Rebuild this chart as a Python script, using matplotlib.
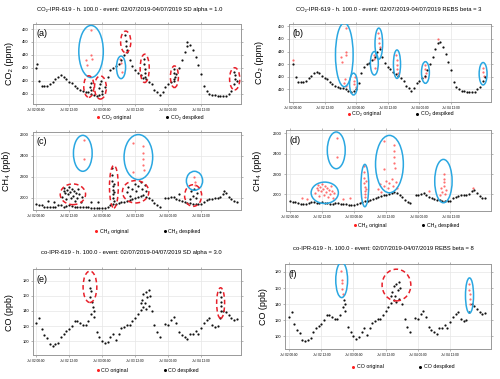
import matplotlib
matplotlib.use('Agg')
import matplotlib.pyplot as plt
from matplotlib.patches import Ellipse
from matplotlib.lines import Line2D
import numpy as np

plt.rcParams['font.family'] = ['Liberation Sans', 'DejaVu Sans']

# hours since Jul 02 00:00
hours = np.arange(74)

co2 = [430, 420, 416, 416, 416, 417, 419, 421, 423, 424,
       423, 421, 419, 418, 416, 414, 413, 412, 411, 411,
       410, 409, 408, 409, 410, 415, 423, 428, 430, 431,
       433, 436, 440, 442, 436, 431, 428, 426, 424, 422,
       421, 419, 417, 413, 411, 409, 411, 415, 417, 419,
       421, 425, 430, 436, 442, 447, 448, 444, 438, 432,
       425, 416, 412, 410, 409, 409, 408, 408, 408, 408,
       410, 412, 417, 420]

ch4 = [1935, 1930, 1925, 1915, 1910, 1908, 1910, 1915, 1930, 1925,
       1915, 1920, 1925, 1918, 1912, 1910, 1908, 1912, 1915, 1910,
       1905, 1903, 1900, 1898, 1900, 1905, 1915, 1925, 1935, 1940,
       1948, 1955, 1960, 1970, 1980, 1990, 1998, 2005, 2015, 2025,
       2010, 1995, 1975, 1950, 1930, 1915, np.nan, 1995, 1998, 2005,
       2010, 1990, 1975, 1965, 1955, 1950, 1945, 1940, 1938, 1935,
       1940, 1960, 1975, 1985, 1990, 1995, 1998, 2005, 2030, 2045,
       2010, 1985, 1965, 1960]

co = [124, 130, 116, 108, 104, 96, 94, 96, 98, 106,
      110, 113, 116, 120, 126, 126, 124, 122, 122, 126,
      136, 132, 112, 106, 100, 97, 99, 106, 110, 102,
      110, 117, 119, 121, 122, 126, 131, 136, 141, 145,
      143, 146, 140, 121, 112, 106, np.nan, 123, 121, 128,
      132, 124, 112, 108, 105, 103, 110, 110, 114, 110,
      118, 124, 128, 130, 122, 119, 120, 130, 140, 138,
      134, 130, 128, 129]

# spike points: time, value, flagged by SD, flagged by REBS
co2_spk_t = [20.1, 20.1, 20.2, 18.3, 18.5, 19.5, 19.8, 20.0, 23.0, 23.3, 23.6, 23.8,
             30.6, 30.9, 31.1, 32.4, 32.6, 32.8, 33.0, 39.3, 39.4, 39.5, 39.6, 39.7,
             50.1, 50.3, 50.4, 50.2, 72.0, 72.2, 72.4, 0.2, 55.0]
co2_spk_v = [459, 440, 437, 436, 432, 415, 418, 413, 414, 417, 420, 412,
             437, 434, 427, 455, 451, 447, 444, 437, 433, 429, 426, 423,
             429, 426, 423, 420, 427, 424, 421, 433, 450]
co2_spk_sd = [1, 1, 1, 1, 1, 0, 0, 0, 0, 0, 0, 0,
              1, 1, 1, 0, 0, 0, 0, 0, 0, 0, 0, 0,
              0, 0, 0, 0, 0, 0, 0, 0, 0]
co2_spk_rebs = [1] * len(co2_spk_t)

ch4_spk_t = [17.4, 17.5,
             9.5, 10.0, 10.3, 10.6, 11.0, 11.3, 11.6, 12.0, 12.3, 12.6,
             13.0, 13.4, 13.8, 14.2, 14.6, 15.0, 15.4, 15.8, 16.2, 16.6,
             27.5, 27.6, 27.7, 27.8, 27.9, 28.0, 28.1, 28.2, 28.3, 28.4,
             35.2, 35.3, 38.8, 38.8, 38.9, 39.0, 39.2,
             33.0, 33.5, 34.0, 35.0, 36.0, 36.5, 37.0, 38.0, 38.5, 39.5, 40.0,
             57.5, 57.6, 57.7,
             56.0, 56.5, 57.0, 57.5, 58.0, 58.5,
             4.5, 6.5, 20.0, 22.5, 52.0, 68.5]
ch4_spk_v = [2555, 2365,
             2010, 2060, 2095, 2040, 1985, 2075, 2030, 2105, 2050, 1995,
             2080, 2020, 2060, 1970, 2040, 2000, 2085, 2030, 1960, 2010,
             2280, 2220, 2160, 2110, 2070, 2030, 2000, 1970, 2130, 2050,
             2520, 2245, 2490, 2430, 2365, 2310, 2260,
             2050, 2100, 2020, 2080, 2130, 2060, 2110, 2150, 2080, 2120, 2060,
             2200, 2150, 2120,
             1990, 2060, 2020, 2080, 2000, 2040,
             1965, 1955, 1955, 1960, 2030, 2065]
ch4_spk_sd = [1, 1] + [0] * 20 + [0] * 10 + [1] * 7 + [0] * 11 + [1] * 3 + [0] * 6 + [0] * 6
ch4_spk_rebs = [1] * len(ch4_spk_t)

co_spk_t = [19.3, 19.6, 19.9, 19.7, 20.2, 67.0, 67.1, 67.2, 67.3, 67.4,
            38.0, 38.5, 39.0, 39.5, 40.0, 40.5, 41.0, 41.5, 20.6, 21.0]
co_spk_v = [181, 170, 166, 159, 152, 165, 158, 152, 146, 140,
            150, 155, 162, 150, 165, 158, 168, 160, 145, 140]
co_spk_sd = [0] * 20
co_spk_rebs = [1] * 10 + [0] * 10

xtick_hours = [0, 12, 24, 36, 48, 60]
xtick_labels = ['Jul 02 00:00', 'Jul 02 12:00', 'Jul 03 00:00',
                'Jul 03 12:00', 'Jul 04 00:00', 'Jul 04 12:00']

BLUE = '#2aa7e1'
RED = '#e8202a'

# ellipse annotations (centre x, centre y, width, height, style)
ells = {
    'a': [(20.0, 442.6, 8.9, 40.4, 'b'), (19.2, 415.4, 3.7, 16.7, 'r'),
          (23.4, 414.7, 4.3, 18, 'r'), (30.9, 430.3, 3.3, 17.5, 'b'),
          (32.6, 450, 3.7, 16.8, 'r'), (39.5, 429.5, 3.3, 22, 'r'),
          (50.3, 423, 2.9, 16.8, 'r'), (72.2, 421.4, 3.7, 17.2, 'r')],
    'b': [(19.5, 437.4, 6.7, 50.6, 'b'), (23.0, 414.2, 3.0, 17.3, 'b'),
          (30.9, 430.7, 3.0, 18.6, 'b'), (32.6, 446.3, 2.9, 24.7, 'b'),
          (39.5, 430, 2.7, 22.6, 'b'), (50.3, 423.4, 3.0, 17.2, 'b'),
          (72.2, 422.4, 3.0, 17.8, 'b')],
    'c': [(17.0, 2424, 6.8, 344, 'b'), (13.4, 2032, 9.2, 198, 'r'),
          (28.3, 2105, 3.2, 408, 'r'), (37.2, 2388, 10.4, 431, 'b'),
          (36.2, 2056, 9.6, 214, 'r'), (57.6, 2161, 5.9, 182, 'b'),
          (57.1, 2020, 6.2, 207, 'r')],
    'd': [(17.3, 2433, 6.7, 361, 'b'), (13.0, 2016, 10.2, 210, 'b'),
          (28.0, 2087, 2.9, 416, 'b'), (37.2, 2298, 10.4, 564, 'b'),
          (57.4, 2131, 6.5, 426, 'b')],
    'e': [(19.6, 172, 5.0, 41.6, 'r'), (67.1, 150.4, 2.9, 40.7, 'r')],
    'f': [(19.6, 170, 4.4, 43.7, 'b'), (40.0, 163.7, 10.7, 39.3, 'r'),
          (67.2, 150.7, 3.0, 43.7, 'b')],
}

fig = plt.figure(figsize=(5, 3.79), dpi=100)


def panel(rect, letter, series, st, sv, flag, gas, ylabel, ylim, yticks,
          xlim, leg_xy, ylab_x):
    ax = fig.add_axes(rect)
    st = np.array(st, float)
    sv = np.array(sv, float)
    flag = np.array(flag, bool)
    ax.plot(st[flag], sv[flag], 'o', color='#ff4040', ms=1.6, mec='none',
            alpha=0.75, zorder=2)
    bt = np.concatenate([hours, st[~flag]])
    bv = np.concatenate([np.array(series, float), sv[~flag]])
    ax.plot(bt, bv, 'o', color='#111111', ms=1.6, mec='none', zorder=3)
    for cx, cy, w, h, s in ells[letter]:
        if s == 'b':
            e = Ellipse((cx, cy), w, h, fill=False, ec=BLUE, lw=1.1, zorder=4)
        else:
            e = Ellipse((cx, cy), w, h, fill=False, ec=RED, lw=1.1,
                        ls=(0, (3, 2)), zorder=4)
        ax.add_patch(e)
    ax.set_xlim(xlim)
    ax.set_ylim(ylim)
    ax.set_xticks(xtick_hours)
    ax.set_xticklabels(xtick_labels, fontsize=2.3)
    ax.set_yticks(yticks)
    ax.set_yticklabels([str(v) for v in yticks], fontsize=2.9)
    ax.grid(color='#e6e6e6', lw=0.5)
    ax.set_axisbelow(True)
    for sp in ax.spines.values():
        sp.set_color('#999999')
        sp.set_linewidth(0.7)
    ax.tick_params(direction='out', length=1.5, width=0.5, color='#999999',
                   pad=1.5, top=True, right=True)
    ax.set_ylabel(ylabel, fontsize=6.5)
    ax.yaxis.set_label_coords(ylab_x, 0.5)
    ax.text(0.015, 0.93, '(' + letter + ')', transform=ax.transAxes,
            fontsize=6.5, va='top', ha='left')
    handles = [Line2D([], [], marker='o', ls='', color='#ff2020', ms=2.2, mec='none'),
               Line2D([], [], marker='o', ls='', color='black', ms=2.2, mec='none')]
    ax.legend(handles, [gas + ' original', gas + ' despiked'], loc='center',
              bbox_to_anchor=leg_xy, ncol=2, frameon=False, fontsize=3.8,
              columnspacing=6.5, handletextpad=0.3, handlelength=0.8)
    return ax


xl_left = (-1.1, 74.5)
xl_right = (-1.5, 75.2)

panel([0.066, 0.726, 0.416, 0.211], 'a', co2, co2_spk_t, co2_spk_v, co2_spk_sd,
      'CO₂', 'CO₂ (ppm)', (402, 464), [410, 420, 430, 440, 450, 460],
      xl_left, (0.56, -0.175), -0.091)
panel([0.578, 0.731, 0.404, 0.206], 'b', co2, co2_spk_t, co2_spk_v, co2_spk_rebs,
      'CO₂', 'CO₂ (ppm)', (400, 462), [410, 420, 430, 440, 450, 460],
      xl_right, (0.55, -0.154), -0.124)
panel([0.066, 0.446, 0.416, 0.206], 'c', ch4, ch4_spk_t, ch4_spk_v, ch4_spk_sd,
      'CH₄', 'CH₄ (ppb)', (1882, 2629), [2000, 2200, 2400, 2600],
      xl_left, (0.55, -0.27), -0.106)
panel([0.572, 0.443, 0.41, 0.214], 'd', ch4, ch4_spk_t, ch4_spk_v, ch4_spk_rebs,
      'CH₄', 'CH₄ (ppb)', (1836, 2633), [2000, 2200, 2400, 2600],
      xl_right, (0.585, -0.173), -0.117)
panel([0.066, 0.063, 0.416, 0.227], 'e', co, co_spk_t, co_spk_v, co_spk_sd,
      'CO', 'CO (ppb)', (81.4, 195.5), [100, 120, 140, 160, 180],
      xl_left, (0.55, -0.174), -0.091)
panel([0.57, 0.079, 0.412, 0.224], 'f', co, co_spk_t, co_spk_v, co_spk_rebs,
      'CO', 'CO (ppb)', (84.3, 189.6), [100, 120, 140, 160, 180],
      xl_right, (0.57, -0.21), -0.084)

fig.text(0.26, 0.974, 'CO₂-IPR-619 - h. 100.0 - event: 02/07/2019-04/07/2019 SD alpha = 1.0',
         fontsize=4.2, ha='center', va='center')
fig.text(0.778, 0.974, 'CO₂-IPR-619 - h. 100.0 - event: 02/07/2019-04/07/2019 REBS beta = 3',
         fontsize=4.2, ha='center', va='center')
fig.text(0.262, 0.335, 'co-IPR-619 - h. 100.0 - event: 02/07/2019-04/07/2019 SD alpha = 3.0',
         fontsize=4.2, ha='center', va='center')
fig.text(0.767, 0.345, 'co-IPR-619 - h. 100.0 - event: 02/07/2019-04/07/2019 REBS beta = 8',
         fontsize=4.2, ha='center', va='center')

fig.savefig('out.png', dpi=100)
